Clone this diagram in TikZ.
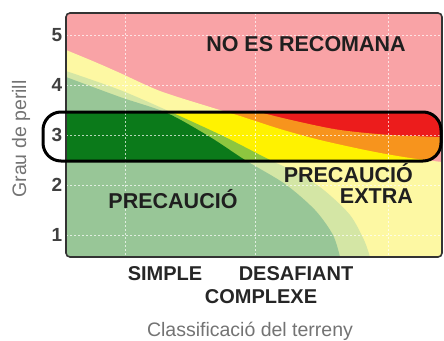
\documentclass[tikz,border=0pt]{standalone}
\usepackage{fontspec}
\setmainfont{Liberation Sans}
\definecolor{pinkzone}{HTML}{F9A3A6}
\definecolor{yellowzone}{HTML}{FDF8A3}
\definecolor{limezone}{HTML}{D4E6A5}
\definecolor{greenzone}{HTML}{98C697}
\definecolor{redzone}{HTML}{EC1C1C}
\definecolor{orangezone}{HTML}{F7941D}
\definecolor{yellowband}{HTML}{FFF200}
\definecolor{limeband}{HTML}{8DC63F}
\definecolor{greenband}{HTML}{0B7A1A}
\newcommand\zonefills[3]{%
\fill[#1] plot[smooth] coordinates {(66,50) (95,62) (120,73) (160,91) (210,107) (240,116) (280,129) (320,140) (370,151) (410,158) (442,162)} -- (442,257) -- (66,257) -- cycle;
\fill[#2] plot[smooth] coordinates {(66,71) (120,90) (173,113) (225,137) (270,160) (300,174) (325,191) (350,215) (364,240) (370,257)} -- (66,257) -- cycle;
\fill[#3] plot[smooth] coordinates {(66,77) (120,97) (167,113) (210,137) (245,160) (285,184) (315,210) (333,235) (340,257)} -- (66,257) -- cycle;
}
\begin{document}
\begin{tikzpicture}[x=1pt,y=-1pt,
  lbl/.style={font=\fontsize{21.5}{24}\selectfont\bfseries,text=black!88,inner sep=0pt},
  cat/.style={font=\fontsize{20}{22}\selectfont\bfseries,text=black!85,inner sep=0pt},
  tick/.style={font=\fontsize{19}{22}\selectfont\bfseries,text=black!75,inner sep=0pt},
  axis/.style={font=\fontsize{19.5}{22}\selectfont,text=black!55,inner sep=0pt},
  grid line/.style={white,opacity=0.7,line width=0.8pt,dash pattern=on 2pt off 2pt}]
\useasboundingbox (0,0) rectangle (444,340);

% zones outside the band
\begin{scope}
\clip[rounded corners=4] (66,13) rectangle (442,257);
\fill[pinkzone] (66,13) rectangle (442,257);
\zonefills{yellowzone}{limezone}{greenzone}
\end{scope}

% zones inside the band
\begin{scope}
\clip[rounded corners=4] (66,13) rectangle (442,257);
\clip[rounded corners=18] (43,112) rectangle (441,161);
\fill[redzone] (66,13) rectangle (442,257);
\fill[orangezone] (66,105) -- plot[smooth] coordinates {(240,105) (263,113) (300,122) (340,130) (390,135) (442,137)} -- (442,257) -- (66,257) -- cycle;
\zonefills{yellowband}{limeband}{greenband}
\end{scope}

\foreach \gx in {125,255,388}
  \draw[grid line] (\gx,13) -- (\gx,257);
\foreach \gy in {35,85,135,185,235}
  \draw[grid line] (66,\gy) -- (442,\gy);

\draw[line width=1.6pt,black!80,rounded corners=4] (66,13) rectangle (442,257);
\draw[line width=3pt,rounded corners=18] (43,112) rectangle (441,161);

\foreach \v/\ty in {5/35,4/85,3/135,2/185,1/235}
  \node[tick] (tick\v) at (57,\ty) {\v};

\node[lbl,anchor=base] (norec) at (306,51) {NO ES RECOMANA};
\node[lbl,anchor=base] (prec) at (173,208) {PRECAUCIÓ};
\node[lbl,anchor=base east] (precx) at (413,182) {PRECAUCIÓ};
\node[lbl,anchor=base east] (extra) at (413,203) {EXTRA};

\node[cat,anchor=base] (simple) at (165,280) {SIMPLE};
\node[cat,anchor=base] (desaf) at (296,280) {DESAFIANT};
\node[cat,anchor=base] (compl) at (261,303) {COMPLEXE};

\node[axis,anchor=base] (xlabel) at (250,336) {Classificació del terreny};
\node[axis,rotate=90] (ylabel) at (21,139) {Grau de perill};
\end{tikzpicture}
\end{document}
